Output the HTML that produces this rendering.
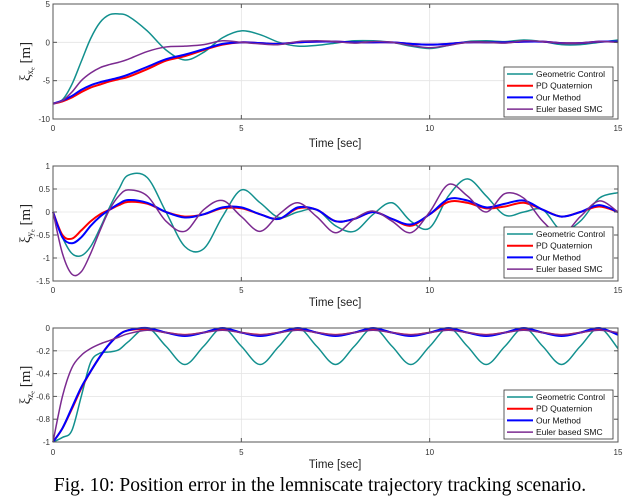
<!DOCTYPE html>
<html><head><meta charset="utf-8"><style>
html,body{margin:0;padding:0;background:#fff;}
svg{display:block;}
.tk{font-family:"Liberation Sans",sans-serif;font-size:8px;fill:#333;}
.xl{font-family:"Liberation Sans",sans-serif;font-size:11.5px;fill:#222;}
.lg{font-family:"Liberation Sans",sans-serif;font-size:8.5px;fill:#111;}
</style></head><body>
<svg id="c" width="640" height="497" viewBox="0 0 640 497">
<text x="320" y="491" text-anchor="middle" font-family="Liberation Serif, serif" font-size="19.5" fill="#000">Fig. 10: Position error in the lemniscate trajectory tracking scenario.</text>
</svg>
<script>
const times=[0,0.25,0.5,0.75,1,1.25,1.5,1.75,2,2.5,3,3.5,4,4.5,5,5.5,6,6.5,7,7.5,8,8.5,9,9.5,10,10.5,11,11.5,12,12.5,13,13.5,14,14.5,15];
const seriesNames=["Geometric Control","PD Quaternion","Our Method","Euler based SMC"];
const xTicks=[0,5,10,15];
// panel 1: x error
const xGeo=[-8,-7.5,-5.5,-2.5,0.5,2.6,3.6,3.7,3.4,1.5,-1.0,-2.3,-1.3,0.6,1.5,1.0,0,-0.5,-0.4,-0.1,0.2,0.2,0,-0.5,-0.8,-0.4,0.1,0.2,0.1,0.3,0.1,-0.3,-0.3,0,0.3];
const xPD=[-8,-7.7,-7.2,-6.5,-5.9,-5.5,-5.1,-4.8,-4.5,-3.5,-2.4,-1.8,-1.0,-0.3,0,-0.1,-0.2,0,0.1,0.1,0,0,0,-0.2,-0.3,-0.2,0,0,0,0.1,0.1,-0.1,-0.1,0.1,0.1];
const xOur=[-8,-7.6,-7.0,-6.2,-5.6,-5.2,-4.9,-4.6,-4.2,-3.2,-2.2,-1.6,-0.9,-0.2,0,-0.1,-0.2,0,0.1,0.1,0,0,0,-0.2,-0.3,-0.2,0,0,0,0.1,0.1,-0.1,-0.1,0.1,0.1];
const xSMC=[-8,-7.6,-6.5,-5.0,-4.0,-3.3,-2.9,-2.6,-2.2,-1.2,-0.6,-0.5,-0.3,0.2,0,-0.2,-0.3,0.1,0.2,0.1,-0.1,0.1,0,-0.4,-0.7,-0.4,0,0,-0.1,0.2,0.1,-0.1,-0.1,0.1,0];
const xYTicks=[5,0,-5,-10];
// panel 2: y error
const yGeo=[0,-0.55,-0.9,-0.95,-0.75,-0.35,0.1,0.5,0.8,0.75,0,-0.75,-0.8,-0.1,0.48,0.2,-0.12,0,0.05,-0.3,-0.42,-0.05,0.2,-0.2,-0.35,0.35,0.72,0.35,-0.07,0,0.05,-0.4,-0.2,0.3,0.42];
const yPD=[0,-0.5,-0.58,-0.4,-0.2,-0.05,0.05,0.15,0.22,0.18,0,-0.1,-0.05,0.08,0.08,-0.05,-0.15,0.08,0.05,-0.2,-0.15,0,-0.15,-0.3,-0.05,0.22,0.2,0.08,0.12,0.2,0.05,-0.1,0,0.12,0];
const yOur=[0,-0.55,-0.68,-0.55,-0.3,-0.1,0.05,0.18,0.26,0.2,0,-0.12,-0.05,0.1,0.1,-0.05,-0.15,0.1,0.05,-0.2,-0.15,0,-0.15,-0.27,-0.05,0.28,0.25,0.1,0.18,0.25,0.05,-0.1,0,0.15,0];
const ySMC=[0,-0.9,-1.35,-1.3,-0.9,-0.4,0.05,0.35,0.48,0.35,-0.2,-0.42,0.05,0.25,-0.1,-0.42,-0.05,0.2,-0.1,-0.45,-0.15,0.02,-0.2,-0.45,0,0.6,0.35,0,0.4,0.3,-0.2,-0.5,-0.1,0.24,0];
const yYTicks=[1,0.5,0,-0.5,-1,-1.5];
// panel 3: z error
const zGeo=[-1,-0.96,-0.9,-0.6,-0.3,-0.22,-0.21,-0.19,-0.12,0,-0.16,-0.32,-0.16,0,-0.16,-0.32,-0.16,0,-0.16,-0.32,-0.16,0,-0.16,-0.32,-0.16,0,-0.16,-0.32,-0.16,0,-0.16,-0.32,-0.16,0,-0.18];
const zPD=[-1,-0.88,-0.71,-0.53,-0.38,-0.25,-0.14,-0.06,-0.02,-0.01,-0.04,-0.06,-0.04,-0.01,-0.04,-0.06,-0.04,-0.01,-0.04,-0.06,-0.04,-0.01,-0.04,-0.06,-0.04,-0.01,-0.04,-0.06,-0.04,-0.01,-0.04,-0.06,-0.04,-0.01,-0.05];
const zOur=[-1,-0.88,-0.7,-0.52,-0.38,-0.25,-0.14,-0.06,-0.02,0,-0.04,-0.07,-0.04,0,-0.04,-0.07,-0.04,0,-0.04,-0.07,-0.04,0,-0.04,-0.07,-0.04,0,-0.04,-0.07,-0.04,0,-0.04,-0.07,-0.04,0,-0.06];
const zSMC=[-1,-0.6,-0.35,-0.24,-0.18,-0.14,-0.11,-0.08,-0.05,-0.02,-0.04,-0.06,-0.04,-0.02,-0.04,-0.06,-0.04,-0.02,-0.04,-0.06,-0.04,-0.02,-0.04,-0.06,-0.04,-0.02,-0.04,-0.06,-0.04,-0.02,-0.04,-0.06,-0.04,-0.02,-0.04];
const zYTicks=[0,-0.2,-0.4,-0.6,-0.8,-1];

const NS="http://www.w3.org/2000/svg";
const svg=document.getElementById('c');
const colors=["#12908e","#ff0000","#0000ff","#7b2a90"];
const widths=[1.5,2,2,1.5];
function mk(tag,attrs,parent){const e=document.createElementNS(NS,tag);for(const k in attrs)e.setAttribute(k,attrs[k]);(parent||svg).appendChild(e);return e;}
const X0=53,X1=618;
function sx(t){return X0+(t-0)/(15-0)*(X1-X0);}
function pathFor(xs,ys){let d="M"+xs[0].toFixed(2)+","+ys[0].toFixed(2);
 for(let i=0;i<xs.length-1;i++){const i0=Math.max(0,i-1),i3=Math.min(xs.length-1,i+2);
  const c1x=xs[i]+(xs[i+1]-xs[i0])/6,c1y=ys[i]+(ys[i+1]-ys[i0])/6;
  const c2x=xs[i+1]-(xs[i3]-xs[i])/6,c2y=ys[i+1]-(ys[i3]-ys[i])/6;
  d+=" C"+c1x.toFixed(2)+","+c1y.toFixed(2)+" "+c2x.toFixed(2)+","+c2y.toFixed(2)+" "+xs[i+1].toFixed(2)+","+ys[i+1].toFixed(2);}
 return d;}
const panels=[
 {key:"x",top:4,bot:119,ymax:5,ymin:-10,ticks:xYTicks,series:[xGeo,xPD,xOur,xSMC],sub:"x",leg:[504,67,109,50],tl:128,xl:147},
 {key:"y",top:166,bot:281,ymax:1,ymin:-1.5,ticks:yYTicks,series:[yGeo,yPD,yOur,ySMC],sub:"y",leg:[504,227,109,51],tl:290,xl:306},
 {key:"z",top:328,bot:442,ymax:0,ymin:-1,ticks:zYTicks,series:[zGeo,zPD,zOur,zSMC],sub:"z",leg:[504,390,109,49],tl:452,xl:468}
];
panels.forEach(p=>{
 const g=mk('g',{});
 
 
 const sy=v=>p.top+(p.ymax-v)/(p.ymax-p.ymin)*(p.bot-p.top);
 xTicks.forEach(t=>{const l=mk('line',{x1:sx(t),x2:sx(t),y1:p.top,y2:p.bot,stroke:"#e4e4e4","stroke-width":0.8},g);
  });
 p.ticks.forEach(v=>{const l=mk('line',{x1:X0,x2:X1,y1:sy(v),y2:sy(v),stroke:"#e4e4e4","stroke-width":0.8},g);
  });
 const xs=times.map(sx);
 p.series.forEach((s,i)=>{const path=mk('path',{d:pathFor(xs,s.map(sy)),fill:"none",stroke:colors[i],"stroke-width":widths[i],"stroke-linejoin":"round"},g);
  
  });
 const box=mk('rect',{x:X0,y:p.top,width:X1-X0,height:p.bot-p.top,fill:"none",stroke:"#555","stroke-width":1},g);
 
 xTicks.forEach(t=>{mk('line',{x1:sx(t),x2:sx(t),y1:p.bot,y2:p.bot-4,stroke:"#555"},g);mk('line',{x1:sx(t),x2:sx(t),y1:p.top,y2:p.top+4,stroke:"#555"},g);
  const tx=mk('text',{x:sx(t),y:p.tl+3,"text-anchor":"middle",class:"tk"},g);tx.textContent=t;
  });
 p.ticks.forEach(v=>{mk('line',{x1:X0,x2:X0+4,y1:sy(v),y2:sy(v),stroke:"#555"},g);mk('line',{x1:X1,x2:X1-4,y1:sy(v),y2:sy(v),stroke:"#555"},g);
  const tx=mk('text',{x:X0-3,y:sy(v)+3,"text-anchor":"end",class:"tk"},g);tx.textContent=v;
  });
 const xl=mk('text',{x:335,y:p.xl,"text-anchor":"middle",class:"xl"},g);xl.textContent="Time [sec]";
 
 const cy=(p.top+p.bot)/2;
 const yl=mk('text',{x:0,y:0,transform:"translate(30,"+cy+") rotate(-90)","text-anchor":"middle","font-family":"Liberation Serif, serif","font-size":"15",fill:"#222"},g);
 yl.innerHTML='ξ<tspan font-size="9" dy="3">'+p.sub+'</tspan><tspan font-size="6" dy="1.5">e</tspan><tspan dy="-4.5"> [m]</tspan>';
 
 const [lx,ly,lw,lh]=p.leg;
 const lg=mk('g',{},g);
 
 mk('rect',{x:lx,y:ly,width:lw,height:lh,fill:"#fff",stroke:"#333","stroke-width":0.8},lg);
 seriesNames.forEach((n,i)=>{const yy=ly+7+i*11.7;
  const ln=mk('line',{x1:lx+3,x2:lx+29,y1:yy,y2:yy,stroke:colors[i],"stroke-width":widths[i]},lg);
  
  const tt=mk('text',{x:lx+32,y:yy+3,class:"lg"},lg);tt.textContent=n;
  });
});
</script>
</body></html>
